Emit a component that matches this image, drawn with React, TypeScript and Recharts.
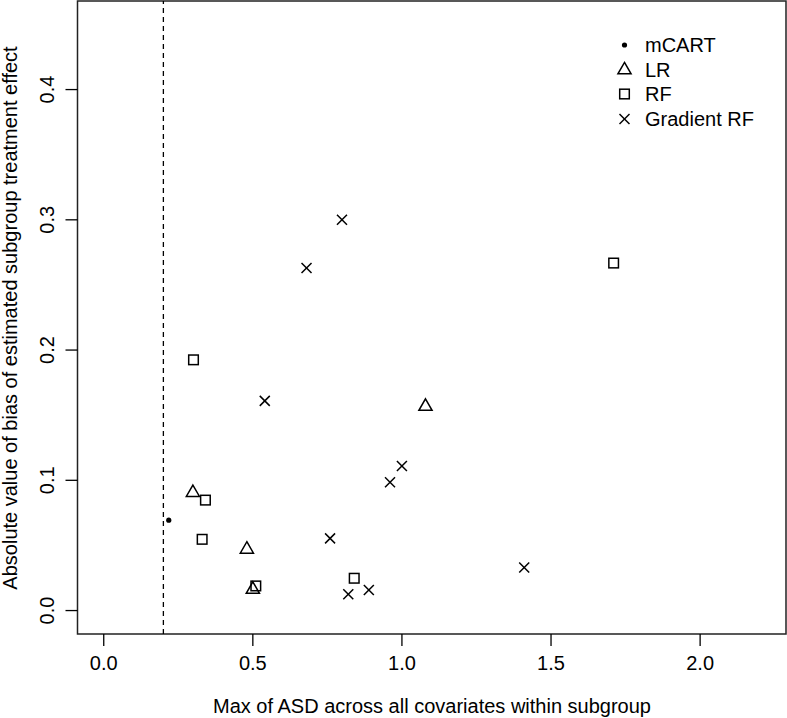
import React from 'react'
import {
  ScatterChart,
  Scatter,
  XAxis,
  YAxis,
  ReferenceLine,
  ReferenceArea,
} from 'recharts'

const FONT = '"Liberation Sans", Arial, Helvetica, sans-serif'

const X_TICKS = [0, 0.5, 1, 1.5, 2]
const Y_TICKS = [0, 0.1, 0.2, 0.3, 0.4]
const X_DOMAIN: [number, number] = [-0.088, 2.288]
const Y_DOMAIN: [number, number] = [-0.018, 0.468]
const ASD_CUTOFF = 0.2

const mcart = [{ x: 0.218, y: 0.0694 }]

const lr = [
  { x: 0.299, y: 0.0905 },
  { x: 0.48, y: 0.047 },
  { x: 0.5, y: 0.0162 },
  { x: 1.079, y: 0.1567 },
]

const rf = [
  { x: 0.301, y: 0.1925 },
  { x: 0.341, y: 0.0848 },
  { x: 0.33, y: 0.0547 },
  { x: 0.51, y: 0.0189 },
  { x: 0.84, y: 0.0248 },
  { x: 1.71, y: 0.2668 },
]

const gradientRf = [
  { x: 0.799, y: 0.3 },
  { x: 0.68, y: 0.263 },
  { x: 0.54, y: 0.161 },
  { x: 0.759, y: 0.0554 },
  { x: 0.82, y: 0.0125 },
  { x: 0.889, y: 0.0158 },
  { x: 0.96, y: 0.0985 },
  { x: 1.0, y: 0.111 },
  { x: 1.41, y: 0.033 },
]

const LEGEND = [
  { name: 'mCART', pch: 'dot' },
  { name: 'LR', pch: 'triangle' },
  { name: 'RF', pch: 'square' },
  { name: 'Gradient RF', pch: 'cross' },
]

function Marker({ cx, cy, pch }: { cx: number; cy: number; pch: string }) {
  if (cx == null || cy == null) return null
  if (pch === 'dot') return <circle cx={cx} cy={cy} r={2.6} fill="#000" />
  if (pch === 'triangle') {
    const r = 7.6
    const h = r * 0.866
    return (
      <polygon
        points={`${cx},${cy - r} ${cx + h},${cy + r / 2} ${cx - h},${cy + r / 2}`}
        fill="none"
        stroke="#000"
        strokeWidth={1.5}
      />
    )
  }
  if (pch === 'square') {
    const s = 4.8
    return (
      <rect x={cx - s} y={cy - s} width={2 * s} height={2 * s} fill="none" stroke="#000" strokeWidth={1.5} />
    )
  }
  const s = 5
  return (
    <g stroke="#000" strokeWidth={1.5}>
      <line x1={cx - s} y1={cy - s} x2={cx + s} y2={cy + s} />
      <line x1={cx - s} y1={cy + s} x2={cx + s} y2={cy - s} />
    </g>
  )
}

const XTick = ({ x, y, payload }: any) => (
  <text x={x} y={y + 24} textAnchor="middle" fontSize={20} fontFamily={FONT} fill="#000">
    {payload.value.toFixed(1)}
  </text>
)

const YTick = ({ x, y, payload }: any) => (
  <text
    x={x - 11}
    y={y}
    textAnchor="middle"
    fontSize={20}
    fontFamily={FONT}
    fill="#000"
    transform={`rotate(-90, ${x - 11}, ${y})`}
  >
    {payload.value.toFixed(1)}
  </text>
)

const XTitle = () => (
  <text x={432} y={713} textAnchor="middle" fontSize={20} fontFamily={FONT} fill="#000">
    Max of ASD across all covariates within subgroup
  </text>
)

const YTitle = () => (
  <text
    x={17}
    y={318}
    textAnchor="middle"
    fontSize={20}
    fontFamily={FONT}
    fill="#000"
    transform="rotate(-90, 17, 318)"
  >
    Absolute value of bias of estimated subgroup treatment effect
  </text>
)

export default function App() {
  return (
    <div style={{ position: 'absolute', left: 0, top: 0, width: 787, height: 718, background: '#fff' }}>
      <ScatterChart width={787} height={718} margin={{ top: 1, right: 1, bottom: 0, left: 0 }}>
        <XAxis
          type="number"
          dataKey="x"
          domain={X_DOMAIN}
          ticks={X_TICKS}
          allowDataOverflow
          axisLine={false}
          tickLine={{ stroke: '#000', strokeWidth: 1.3 }}
          tickSize={12}
          tickMargin={0}
          height={84}
          tick={<XTick />}
          label={{ content: XTitle }}
        />
        <YAxis
          type="number"
          dataKey="y"
          domain={Y_DOMAIN}
          ticks={Y_TICKS}
          allowDataOverflow
          axisLine={false}
          tickLine={{ stroke: '#000', strokeWidth: 1.3 }}
          tickSize={12}
          tickMargin={0}
          width={77.5}
          tick={<YTick />}
          label={{ content: YTitle }}
        />
        <ReferenceArea
          x1={X_DOMAIN[0]}
          x2={X_DOMAIN[1]}
          y1={Y_DOMAIN[0]}
          y2={Y_DOMAIN[1]}
          fill="none"
          stroke="#222"
          strokeWidth={1.5}
          fillOpacity={0}
        />
        <ReferenceLine x={ASD_CUTOFF} stroke="#000" strokeWidth={1.3} strokeDasharray="5 4" />
        <Scatter data={mcart} isAnimationActive={false} shape={(p: any) => <Marker cx={p.cx} cy={p.cy} pch="dot" />} />
        <Scatter data={lr} isAnimationActive={false} shape={(p: any) => <Marker cx={p.cx} cy={p.cy} pch="triangle" />} />
        <Scatter data={rf} isAnimationActive={false} shape={(p: any) => <Marker cx={p.cx} cy={p.cy} pch="square" />} />
        <Scatter
          data={gradientRf}
          isAnimationActive={false}
          shape={(p: any) => <Marker cx={p.cx} cy={p.cy} pch="cross" />}
        />
      </ScatterChart>
      <div style={{ position: 'absolute', left: 612, top: 33, fontFamily: FONT, fontSize: 20, color: '#000' }}>
        {LEGEND.map((item) => (
          <div key={item.name} style={{ display: 'flex', alignItems: 'center', height: 24.5 }}>
            <svg width={33} height={24} style={{ display: 'block' }}>
              <Marker cx={12.5} cy={12} pch={item.pch} />
            </svg>
            <span style={{ lineHeight: '24px' }}>{item.name}</span>
          </div>
        ))}
      </div>
    </div>
  )
}
